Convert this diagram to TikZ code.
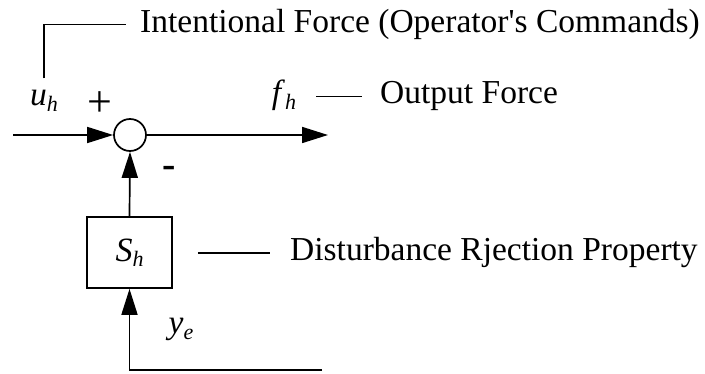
\documentclass[tikz,border=0pt]{standalone}
\usepackage{fontspec}
\setmainfont{Liberation Serif}[Ligatures=TeXOff]
\usetikzlibrary{arrows.meta, positioning, calc}
\tikzstyle{sumnode} = [circle, draw=black, line width=1.7pt, minimum size=32pt,
                       inner sep=0pt]
\tikzstyle{blk}     = [rectangle, draw=black, line width=1.7pt, minimum width=85pt,
                       minimum height=71pt, font=\fontsize{34}{40}\selectfont]
\tikzstyle{arr}     = [-{Triangle[length=26pt,width=16pt]}, line width=1.7pt]
\tikzstyle{lead}    = [line width=1.1pt]
\tikzstyle{lbl}     = [font=\fontsize{33.5}{40}\selectfont, inner sep=0pt]
\newcommand{\sig}[2]{\textit{#1}\raisebox{-0.35ex}{\fontsize{22}{26}\selectfont\textit{#2}}}

\begin{document}
\begin{tikzpicture}[x=1pt,y=-1pt]
  \useasboundingbox (0,0) rectangle (705,374);

  \node[sumnode] (sum) at (130,135) {};
  \node[blk] (Sh) at (129.5,252.5) {\sig{S}{h}};
  \coordinate (in)  at (13,135);
  \coordinate (out) at (328,135);
  \coordinate (fb)  at (322,370);

  \draw[arr] (in) -- (sum.west);
  \draw[arr] (sum.east) -- (out);
  \draw[arr] (Sh.north) -- (sum.south);
  \draw[arr] (fb) -| (Sh.south);

  % signal labels
  \node[lbl, anchor=base] (uh)   at (44,106)  {\sig{u}{h}};
  \node[lbl, anchor=base, font=\fontsize{44}{50}\selectfont] (plus) at (100,117) {+};
  \node[lbl, anchor=base] (fh)   at (284,104) {\sig{f}{h}};
  \node[lbl, anchor=base, font=\fontsize{40}{46}\selectfont\bfseries] (minus) at (169,178) {-};
  \node[lbl, anchor=base] (ye)   at (181,334) {\sig{y}{e}};

  % descriptions
  \node[lbl, anchor=base west] (intent) at (140,33)
      {Intentional Force (Operator's Commands)};
  \node[lbl, anchor=base west] (outlbl) at (380,104) {Output Force};
  \node[lbl, anchor=base west] (dist) at (290,261)
      {Disturbance Rjection Property};

  \draw[lead, shorten <=12pt, shorten >=14pt] (uh.north) |- (intent.west);
  \draw[lead, shorten <=20pt, shorten >=18pt] (fh.east |- outlbl.west) -- (outlbl.west);
  \draw[lead, shorten <=25pt, shorten >=20pt] (Sh.east |- dist.west) -- (dist.west);

\end{tikzpicture}
\end{document}
